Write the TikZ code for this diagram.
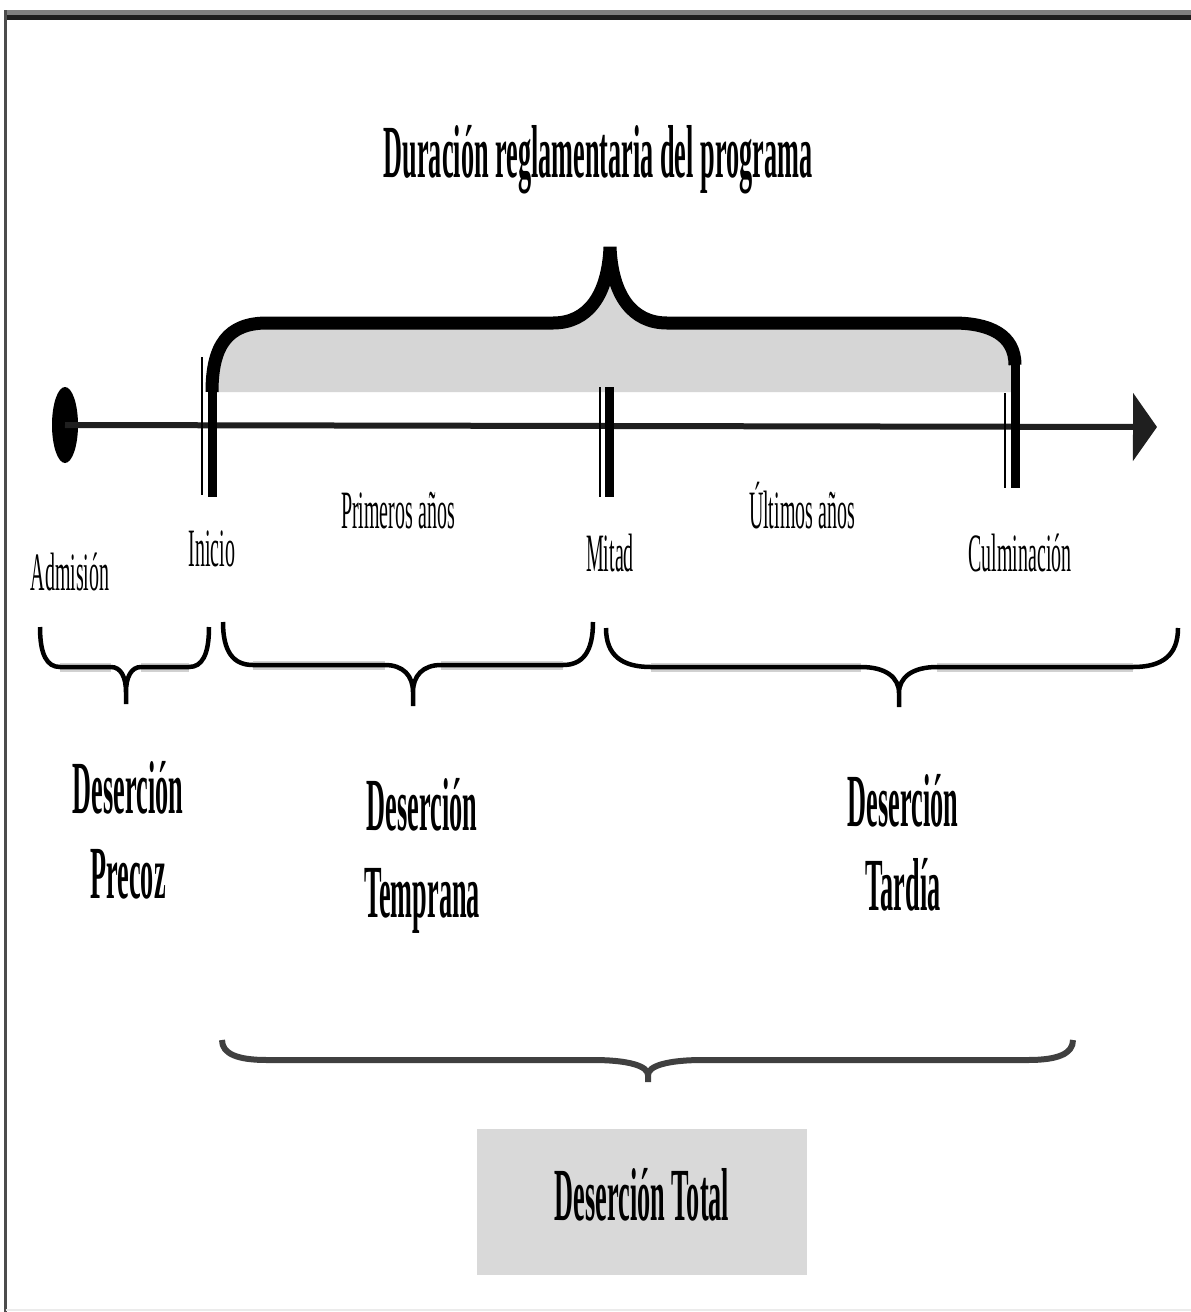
\documentclass[tikz,border=0pt]{standalone}
\usepackage{fontspec}
\setmainfont{Liberation Serif}
\newfontfamily\bigcond[FakeStretch=0.35]{Liberation Serif}
\newfontfamily\smcond[FakeStretch=0.37]{Liberation Serif}
\usetikzlibrary{shapes.geometric,arrows.meta}
\tikzset{
  bigtxt/.style={font=\bigcond\bfseries\fontsize{75}{80}\selectfont, inner sep=0pt, anchor=base},
  smtxt/.style={font=\smcond\fontsize{54}{58}\selectfont, inner sep=0pt, anchor=base},
  thinmark/.style={line width=2pt, black},
  thickmark/.style={line width=9pt, black},
  bracestyle/.style={line width=4.5pt, black},
  bracehalo/.style={line width=9pt, black!18},
}
% #1 x1, #2 x2, #3 xtip, #4 ytop, #5 yh, #6 ytip, #7 yend, #8 rx, #9 vw
\newcommand{\drawbrace}[9]{%
  \draw[bracehalo] ({#1+#8},#5) -- ({#3-#9},#5) ({#3+#9},#5) -- ({#2-#8},#5);
  \draw[bracestyle] (#1,#4) .. controls (#1,{#5-0.3*(#5-#4)}) and ({#1+0.35*#8},#5) .. ({#1+#8},#5) -- ({#3-#9},#5)
      .. controls ({#3-0.35*#9},#5) and (#3,{#5+0.4*(#6-#5)}) .. (#3,#6) -- (#3,#7)
      (#2,#4) .. controls (#2,{#5-0.3*(#5-#4)}) and ({#2-0.35*#8},#5) .. ({#2-#8},#5) -- ({#3+#9},#5)
      .. controls ({#3+0.35*#9},#5) and (#3,{#5+0.4*(#6-#5)}) .. (#3,#6);
}
\begin{document}
\begin{tikzpicture}[x=1pt,y=-1pt]
\useasboundingbox (0,0) rectangle (1191,1312);
\fill[white] (0,0) rectangle (1191,1312);
% frame
\draw[line width=5pt, black!50] (4,12.5) -- (1191,12.5);
\draw[line width=5pt, black!88] (4,17.5) -- (1191,17.5);
\draw[line width=3pt, black!70] (5.5,10) -- (5.5,1312);
\draw[line width=1.5pt, black!8] (5.5,1310) -- (1191,1310);

% title
\node[bigtxt] (title) at (598,177) {Duración reglamentaria del programa};

% big brace with grey band
\fill[black!16] (212,392) .. controls (212,345) and (228,323) .. (267,323) -- (553,323)
   .. controls (588,323) and (608,295) .. (610,247)
   .. controls (612,295) and (632,323) .. (667,323) -- (953,323)
   .. controls (990,323) and (1015,335) .. (1015,365) -- (1015,392) -- cycle;
\draw[line width=13pt, black] (212,392) .. controls (212,345) and (228,323) .. (267,323) -- (553,323)
   .. controls (588,323) and (608,295) .. (610,247)
   .. controls (612,295) and (632,323) .. (667,323) -- (953,323)
   .. controls (990,323) and (1015,335) .. (1015,365);

% timeline
\node[ellipse, fill=black, minimum width=26pt, minimum height=76pt, inner sep=0pt] (adm) at (65,425) {};
\coordinate (tlend) at (1157,427);
\draw[line width=6pt, black!88, -{Triangle[length=24pt,width=67pt]}] (adm.center) -- (tlend);

% marks
\draw[thinmark] (202,357) -- (202,495);
\draw[thickmark] (212,388) -- (212,497);
\draw[thinmark] (600,387) -- (600,497);
\draw[thickmark] (609,387) -- (609,497);
\draw[thinmark] (1005,393) -- (1005,488);
\draw[thickmark] (1015,352) -- (1015,488);

% small labels
\node[smtxt] (admision) at (70,590) {Admisión};
\node[smtxt] (inicio) at (212,566) {Inicio};
\node[smtxt] (primeros) at (398,528) {Primeros años};
\node[smtxt] (mitad) at (610,571) {Mitad};
\node[smtxt] (ultimos) at (802,528) {Últimos años};
\node[smtxt] (culm) at (1020,571) {Culminación};

% lower braces
\drawbrace{40}{209}{126}{627}{667}{692}{704}{20}{15}
\drawbrace{223}{593}{413}{622}{665}{692}{706}{30}{28}
\drawbrace{606}{1178}{899}{628}{667}{693}{707}{45}{38}

% category labels
\node[bigtxt] (dp1) at (128,813) {Deserción};
\node[bigtxt] (dp2) at (128,898) {Precoz};
\node[bigtxt] (dt1) at (422,830) {Deserción};
\node[bigtxt] (dt2) at (422,917) {Temprana};
\node[bigtxt] (dd1) at (903,826) {Deserción};
\node[bigtxt] (dd2) at (903,910) {Tardía};

% bottom brace
\begin{scope}[bracestyle/.style={line width=6pt, black!75}, bracehalo/.style={line width=6pt, black!70}]
\drawbrace{222}{1073}{648}{1040}{1060}{1075}{1082}{45}{55}
\end{scope}

% total box
\node[fill=black!15, minimum width=330pt, minimum height=146pt, inner sep=0pt] (box) at (642,1202) {};
\node[bigtxt] (total) at (642,1220) {Deserción Total};
\end{tikzpicture}
\end{document}
